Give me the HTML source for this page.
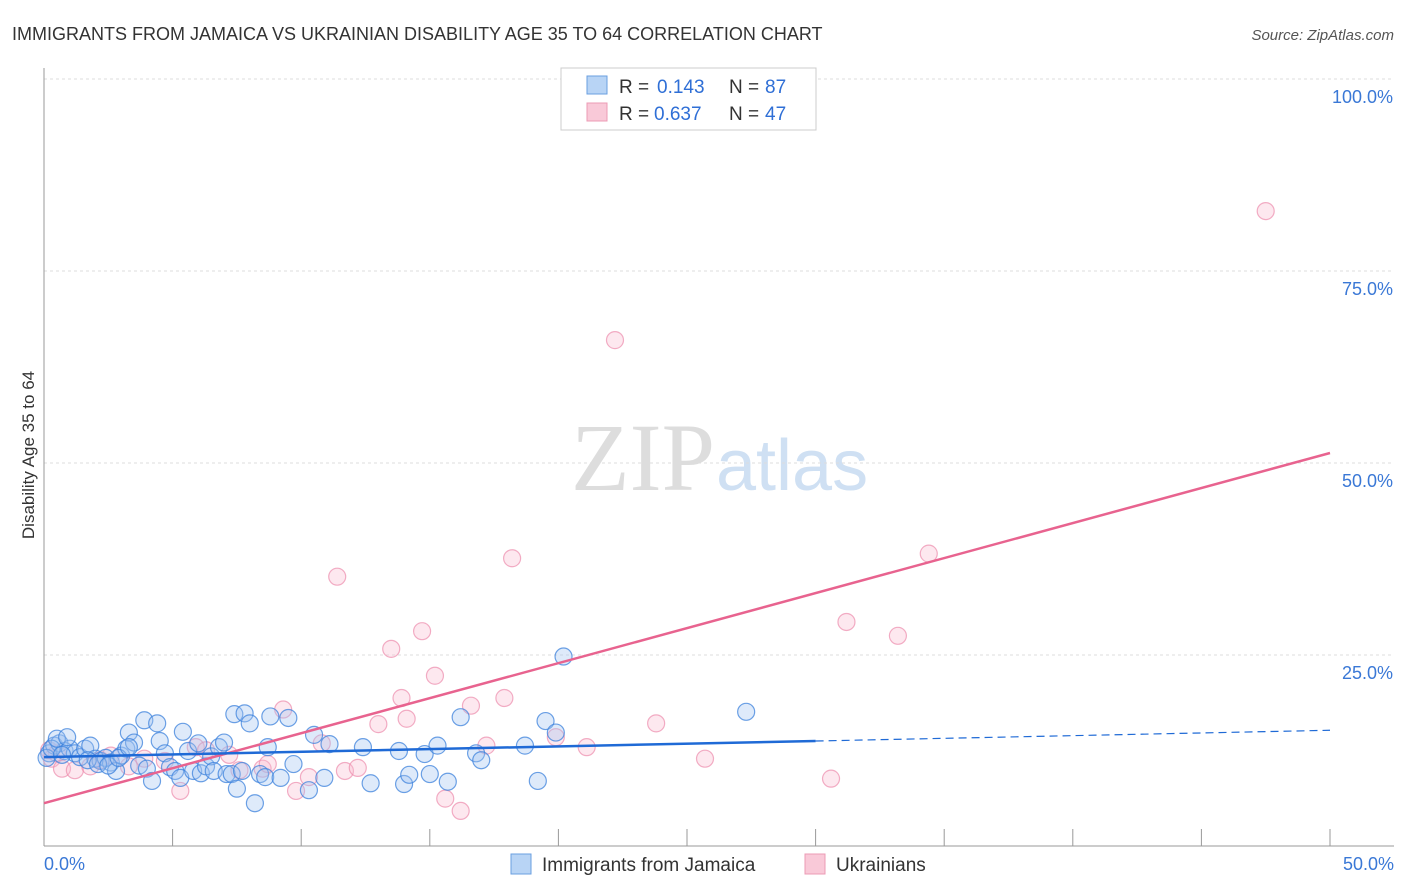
<!DOCTYPE html>
<html><head><meta charset="utf-8"><style>
body{margin:0;background:#fff;font-family:"Liberation Sans",sans-serif;}
svg{display:block}
</style></head><body>
<svg id="chart" width="1406" height="892">
<text x="12" y="40" font-size="18" fill="#333">IMMIGRANTS FROM JAMAICA VS UKRAINIAN DISABILITY AGE 35 TO 64 CORRELATION CHART</text>
<text x="1394" y="40" font-size="15" fill="#555" font-style="italic" text-anchor="end">Source: ZipAtlas.com</text>
<text x="715" y="490" font-size="96" font-family="Liberation Serif,serif" fill="#ddd" text-anchor="end">ZIP</text>
<text x="716" y="490" font-size="72" fill="#cfe0f3">atlas</text>
<g id="grid"></g>
<line x1="44" y1="68" x2="44" y2="846" stroke="#999"/>
<line x1="44" y1="846" x2="1394" y2="846" stroke="#999"/>
<text x="34" y="455" font-size="17" fill="#333" text-anchor="middle" transform="rotate(-90 34 455)">Disability Age 35 to 64</text>
<g id="pts"></g>
<g id="lines"></g>
<g>
<rect x="561" y="68" width="255" height="62" fill="#fff" stroke="#ccc"/>
<rect x="587" y="76" width="20" height="18" fill="#b8d4f5" stroke="#6a9fe0"/>
<rect x="587" y="103" width="20" height="18" fill="#f9c9d8" stroke="#ec9bb5"/>
<text x="619" y="93" font-size="19" fill="#333">R =</text>
<text x="657" y="93" font-size="19" fill="#2f6fd6">0.143</text>
<text x="729" y="93" font-size="19" fill="#333">N =</text>
<text x="765" y="93" font-size="19" fill="#2f6fd6">87</text>
<text x="619" y="120" font-size="19" fill="#333">R =</text>
<text x="654" y="120" font-size="19" fill="#2f6fd6">0.637</text>
<text x="729" y="120" font-size="19" fill="#333">N =</text>
<text x="765" y="120" font-size="19" fill="#2f6fd6">47</text>
</g>
<g>
<rect x="511" y="854" width="20" height="20" fill="#b8d4f5" stroke="#6a9fe0"/>
<text x="542" y="871" font-size="19" fill="#333">Immigrants from Jamaica</text>
<rect x="805" y="854" width="20" height="20" fill="#f9c9d8" stroke="#ec9bb5"/>
<text x="836" y="871" font-size="19" fill="#333">Ukrainians</text>
</g>
<text x="44" y="870" font-size="18" fill="#3a78d6">0.0%</text>
<text x="1394" y="870" font-size="18" fill="#3a78d6" text-anchor="end">50.0%</text>
</svg>
<script>
const yTicks=[25,50,75,100];
const yTickLabels=["25.0%","50.0%","75.0%","100.0%"];
const xTicks=[5,10,15,20,25,30,35,40,45,50];
const jamX=[0.2,0.4,0.6,0.8,1.0,1.2,1.4,1.6,1.8,2.0,2.2,2.4,2.6,2.8,3.0,3.2,3.3,3.5,3.7,3.9,4.0,4.2,4.4,4.5,4.7,4.9,5.1,5.3,5.4,5.6,5.8,6.0,6.1,6.3,6.5,6.6,6.8,7.0,7.1,7.3,7.4,7.5,7.7,7.8,8.0,8.2,8.4,8.6,8.7,8.8,9.2,9.5,9.7,10.3,10.5,10.9,11.1,12.4,12.7,13.8,14.0,14.2,14.8,15.0,15.3,15.7,16.2,16.8,17.0,18.7,19.2,19.5,19.9,20.2,27.3,0.1,0.3,0.5,0.7,0.9,1.7,2.1,2.5,2.9,3.3];
const jamY=[12.2,13.2,13.5,12.5,12.8,12.2,11.7,12.8,13.2,11.5,11.2,11.6,11.0,9.9,11.9,12.8,14.9,13.6,10.6,16.5,10.2,8.6,16.1,13.8,12.2,10.4,9.9,9.0,15.0,12.5,9.9,13.5,9.6,10.5,11.8,9.9,13.0,13.6,9.5,9.5,17.3,7.6,9.9,17.4,16.1,5.7,9.5,9.1,13.0,17.0,9.0,16.8,10.8,7.4,14.6,9.0,13.4,13.0,8.3,12.5,8.2,9.4,12.1,9.5,13.2,8.5,16.9,12.2,11.3,13.2,8.6,16.4,14.9,24.8,17.6,11.6,12.8,14.1,12.0,14.3,11.3,10.8,10.6,11.6,13.0];
const ukrX=[0.2,0.3,0.5,0.7,1.2,1.8,2.2,2.6,3.3,3.9,4.7,5.3,5.9,6.3,7.2,7.6,8.5,9.3,9.8,10.3,10.8,11.4,11.7,12.2,13.0,13.5,13.9,14.1,14.7,15.2,15.6,16.2,16.6,17.2,17.9,18.2,19.9,21.1,22.2,23.8,25.7,30.6,31.2,33.2,34.4,47.5,8.7];
const ukrY=[12.6,11.5,12.2,10.2,10.0,10.5,11.3,11.9,10.5,11.5,11.2,7.3,13.0,12.6,12.0,10.0,10.2,17.9,7.3,9.1,13.5,35.2,9.9,10.3,16.0,25.8,19.4,16.7,28.1,22.3,6.3,4.7,18.4,13.2,19.4,37.6,14.3,13.0,66.0,16.1,11.5,8.9,29.3,27.5,38.2,82.8,10.8];
const trendUkr=[5.7,51.3];
const trendJam=[11.7,13.8,15.2];
const X=v=>44+v*25.72, Y=v=>847-v*7.68;
const NS="http://www.w3.org/2000/svg";
const grid=document.getElementById('grid');
yTicks.forEach((t,i)=>{
 const l=document.createElementNS(NS,'line');
 l.setAttribute('x1',44);l.setAttribute('x2',1394);l.setAttribute('y1',Y(t));l.setAttribute('y2',Y(t));
 l.setAttribute('stroke','#ddd');l.setAttribute('stroke-dasharray','3,3');
 
 
 grid.appendChild(l);
 const tx=document.createElementNS(NS,'text');
 tx.setAttribute('x',1393);tx.setAttribute('y',Y(t)+24);tx.setAttribute('font-size','18');
 tx.setAttribute('fill','#3a78d6');tx.setAttribute('text-anchor','end');tx.textContent=yTickLabels[i];
 
 
 grid.appendChild(tx);
});
xTicks.forEach(t=>{
 const l=document.createElementNS(NS,'line');
 l.setAttribute('x1',X(t));l.setAttribute('x2',X(t));l.setAttribute('y1',829);l.setAttribute('y2',846);
 l.setAttribute('stroke','#999');
 
 
 grid.appendChild(l);
});
const pts=document.getElementById('pts');
function dots(xs,ys,fill,stroke,name){
 xs.forEach((x,i)=>{
  const c=document.createElementNS(NS,'circle');
  c.setAttribute('cx',X(x));c.setAttribute('cy',Y(ys[i]));c.setAttribute('r',8.5);
  c.setAttribute('fill',fill);c.setAttribute('stroke',stroke);c.setAttribute('stroke-width','1.2');
  
  
  pts.appendChild(c);
 });
}
dots(ukrX,ukrY,'rgba(248,190,208,0.35)','rgba(236,140,172,0.7)','ukrainian-point');
dots(jamX,jamY,'rgba(160,196,240,0.35)','rgba(60,130,220,0.75)','jamaica-point');
const lines=document.getElementById('lines');
function ln(x1,y1,x2,y2,c,w,dash,name){
 const l=document.createElementNS(NS,'line');
 l.setAttribute('x1',X(x1));l.setAttribute('y1',Y(y1));l.setAttribute('x2',X(x2));l.setAttribute('y2',Y(y2));
 l.setAttribute('stroke',c);l.setAttribute('stroke-width',w);if(dash)l.setAttribute('stroke-dasharray',dash);
 
 
 lines.appendChild(l);
}
ln(0,trendUkr[0],50,trendUkr[1],'#e8638f',2.5,null,'ukrainian-trendline');
ln(0,trendJam[0],30,trendJam[1],'#1f6ad6',2.5,null,'jamaica-trendline');
ln(30,trendJam[1],50,trendJam[2],'#1f6ad6',1.2,'8,5','jamaica-trendline-extension');
</script>
</body></html>
